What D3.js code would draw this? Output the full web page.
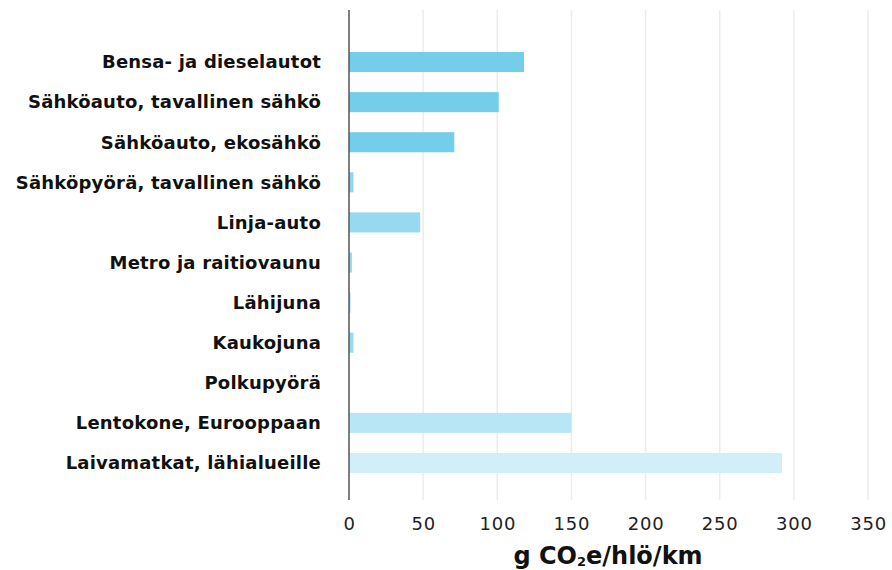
<!DOCTYPE html>
<html>
<head>
<meta charset="utf-8">
<script src="https://cdn.jsdelivr.net/npm/d3@7"></script>
<style>
  body { margin: 0; background: #fff; }
  svg { display: block; font-family: "DejaVu Sans", "Noto Sans", sans-serif; }
</style>
</head>
<body>
<svg width="892" height="570"></svg>
<script>
// data
var categories = ["Bensa- ja dieselautot", "Sähköauto, tavallinen sähkö", "Sähköauto, ekosähkö",
  "Sähköpyörä, tavallinen sähkö", "Linja-auto", "Metro ja raitiovaunu", "Lähijuna",
  "Kaukojuna", "Polkupyörä", "Lentokone, Eurooppaan", "Laivamatkat, lähialueille"];
var values = [118, 101, 71, 3, 48, 2, 1, 3, 0, 150, 292];
var tickValues = [0, 50, 100, 150, 200, 250, 300, 350];
var barColors = ["#74cde9", "#74cde9", "#74cde9", "#8fd5ee", "#99d9f0", "#99d9f0", "#99d9f0",
  "#99d9f0", "#99d9f0", "#b9e6f5", "#d2eef8"];

var svg = d3.select("svg");

var x = d3.scaleLinear().domain([0, 350]).range([349, 868]);
var y = d3.scaleBand().domain(categories).range([42, 483])
  .paddingInner(0.5).paddingOuter(0.25);
var color = d3.scaleOrdinal().domain(categories).range(barColors);

// grid
svg.append("g").selectAll("line")
  .data(tickValues.slice(1))
  .enter().append("line")
  .attr("x1", function(d) { return x(d); })
  .attr("x2", function(d) { return x(d); })
  .attr("y1", 10).attr("y2", 500)
  .style("stroke", "#ececec").style("stroke-width", 1.5);

// bars
svg.append("g").selectAll("rect")
  .data(values)
  .enter().append("rect")
  .attr("x", x(0))
  .attr("y", function(d, i) { return y(categories[i]); })
  .attr("width", function(d) { return x(d) - x(0); })
  .attr("height", y.bandwidth())
  .style("fill", function(d, i) { return color(categories[i]); });

// y labels
svg.append("g").selectAll("text")
  .data(categories)
  .enter().append("text")
  .attr("x", 321)
  .attr("y", function(d) { return y(d) + y.bandwidth() / 2; })
  .attr("dy", "0.35em")
  .attr("text-anchor", "end")
  .style("font-size", "18px").style("font-weight", 700).style("fill", "#111")
  .style("letter-spacing", "0.2px")
  .text(function(d) { return d; });

// axis line
svg.append("line")
  .attr("x1", x(0)).attr("x2", x(0))
  .attr("y1", 10).attr("y2", 500)
  .style("stroke", "#555").style("stroke-width", 1.5);

// x ticks
var xAxis = svg.append("g")
  .attr("transform", "translate(0,500)")
  .call(d3.axisBottom(x).tickValues(tickValues).tickSize(0).tickPadding(17));
xAxis.select(".domain").remove();
xAxis.selectAll("text")
  .style("font-family", "'DejaVu Sans', sans-serif")
  .style("font-size", "18px").style("fill", "#222").style("letter-spacing", "0.8px");

// axis title
var title = svg.append("text")
  .attr("x", 608).attr("y", 564)
  .attr("text-anchor", "middle")
  .style("font-size", "24px").style("font-weight", 700).style("fill", "#111");
title.append("tspan").text("g CO");
title.append("tspan").attr("dy", 2).style("font-size", "13px").text("2");
title.append("tspan").attr("dy", -2).text("e/hlö/km");
</script>
</body>
</html>
